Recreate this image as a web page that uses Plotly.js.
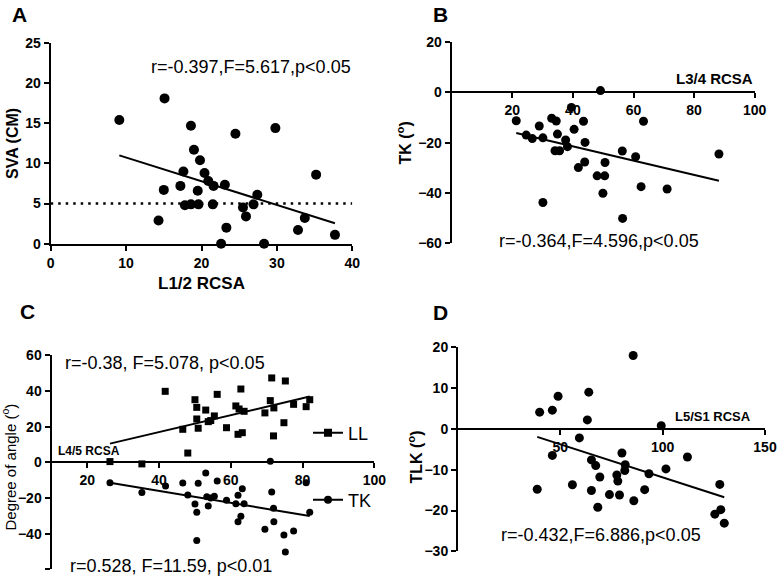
<!DOCTYPE html>
<html>
<head>
<meta charset="utf-8">
<script src="https://cdn.plot.ly/plotly-3.0.1.min.js"></script>
<style>html,body{margin:0;padding:0;background:#fff;}#chart{width:778px;height:576px;}</style>
</head>
<body>
<div id="chart"></div>
<script>
// ---------- Data ----------
// Panel A: L1/2 RCSA vs SVA (CM)
const aRCSA = [9.1, 15.1, 14.3, 15.0, 17.2, 17.6, 17.8, 18.6, 18.6, 19.0, 19.5, 19.6, 19.8, 20.4, 20.9, 21.6, 21.5, 22.6, 23.1, 23.3, 24.5, 25.5, 25.9, 26.9, 27.4, 28.3, 29.8, 32.8, 33.7, 35.2, 37.7];
const aSVA  = [15.4, 18.1, 2.9, 6.7, 7.2, 9.0, 4.8, 4.9, 14.7, 11.7, 6.6, 4.9, 10.4, 8.8, 7.8, 7.2, 4.9, 0.0, 7.35, 2.0, 13.7, 4.5, 3.4, 4.9, 6.1, 0.0, 14.4, 1.7, 3.2, 8.6, 1.1];
const aThreshold = 5;

// Panel B: L3/4 RCSA vs TK
const bRCSA = [21.3, 24.6, 26.6, 28.9, 30.1, 30.1, 33.0, 34.1, 34.5, 34.9, 35.6, 37.6, 38.2, 39.5, 40.4, 41.8, 43.5, 44.0, 43.9, 48.0, 49.1, 49.9, 50.5, 50.6, 56.3, 56.4, 60.7, 62.5, 63.3, 71.1, 88.2];
const bTK   = [-11.3, -17.0, -18.4, -13.4, -18.1, -43.8, -10.3, -23.2, -11.4, -16.6, -23.2, -18.9, -21.6, -6.0, -14.7, -29.9, -11.5, -19.9, -27.7, -33.2, 0.7, -40.1, -33.2, -27.9, -23.3, -50.1, -25.6, -37.5, -11.5, -38.4, -24.5];

// Panel C: L4/5 RCSA vs LL and TK
const cLLRCSA = [26.3, 35.2, 41.7, 46.6, 48.0, 50.0, 50.5, 50.5, 50.9, 53.0, 53.7, 54.4, 55.4, 56.2, 58.8, 61.4, 62.0, 62.3, 62.8, 63.2, 63.7, 69.5, 71.0, 71.4, 71.9, 72.0, 74.8, 75.2, 77.5, 81.0, 82.0];
const cLL     = [0.4, -0.9, 39.8, 18.5, 5.2, 35.1, 30.8, 24.3, 19.1, 29.3, 22.8, 23.4, 26.0, 38.1, 19.4, 31.6, 15.7, 29.9, 41.1, 16.6, 28.6, 27.7, 34.6, 47.3, 14.8, 30.5, 22.2, 45.6, 32.5, 31.2, 35.1];
const cTKRCSA = [26.3, 35.2, 41.8, 46.6, 48.0, 50.0, 50.5, 50.5, 50.9, 53.0, 53.3, 53.7, 54.4, 55.4, 56.2, 58.8, 61.4, 62.0, 62.0, 62.8, 63.2, 63.7, 69.5, 71.0, 71.4, 71.9, 72.0, 74.8, 75.2, 77.5, 81.0, 82.0];
const cTK     = [-11.4, -17.0, -13.3, -11.6, -18.3, -23.4, -28.0, -43.9, -11.8, -6.0, -19.3, -24.5, -20.0, -19.1, -10.5, -21.3, -23.2, -18.5, -33.3, -30.3, -14.8, -23.2, -37.6, 0.6, -16.6, -25.8, -33.3, -40.7, -50.3, -38.5, -11.4, -28.0];

// Panel D: L5/S1 RCSA vs TLK
const dRCSA = [39.9, 46.1, 48.9, 63.9, 63.2, 59.3, 46.1, 38.7, 55.9, 65.2, 67.3, 65.2, 69.3, 68.3, 74.0, 77.6, 78.1, 78.9, 80.1, 81.5, 81.7, 85.9, 85.6, 91.2, 93.3, 99.3, 101.6, 112.1, 125.5, 127.9, 128.4, 130.1];
const dTLK  = [4.1, 4.6, 8.0, 9.0, 2.2, -2.2, -6.5, -14.8, -13.7, -7.6, -9.0, -15.1, -11.8, -19.2, -16.1, -11.3, -12.8, -16.2, -5.9, -10.2, -8.8, -17.6, 18.0, -14.9, -11.0, 0.8, -9.8, -6.9, -20.9, -13.6, -19.8, -23.1];

// Tick labels / texts
const statsA = 'r=-0.397,F=5.617,p<0.05';
const statsB = 'r=-0.364,F=4.596,p<0.05';
const statsCLL = 'r=-0.38, F=5.078, p<0.05';
const statsCTK = 'r=0.528, F=11.59, p<0.01';
const statsD = 'r=-0.432,F=6.886,p<0.05';

// ---------- helpers ----------
function linfit(xs, ys) {
  const n = xs.length;
  let sx = 0, sy = 0, sxx = 0, sxy = 0;
  for (let i = 0; i < n; i++) { sx += xs[i]; sy += ys[i]; sxx += xs[i]*xs[i]; sxy += xs[i]*ys[i]; }
  const m = (n*sxy - sx*sy) / (n*sxx - sx*sx);
  const b = (sy - m*sx) / n;
  const x0 = Math.min(...xs), x1 = Math.max(...xs);
  return {x: [x0, x1], y: [m*x0 + b, m*x1 + b]};
}

const W = 778, H = 576;
const px = v => v / W;
const py = v => 1 - v / H;
const FONT = '"Liberation Sans", Arial, sans-serif';
const K = '#000';

// domains (pixels -> paper)
const domA = {x: [px(50.7), px(352.3)], y: [py(243.7), py(43)]};
const domB = {x: [px(451.7), px(754.7)], y: [py(243.3), py(42)]};
const domC = {x: [px(51.5), px(374.3)], y: [py(569.3), py(355.3)]};
const domD = {x: [px(458), px(765)], y: [py(551.3), py(347.3)]};

const rngA = {x: [0, 40], y: [0, 25]};
const rngB = {x: [0, 100], y: [-60, 20]};
const rngC = {x: [10, 100], y: [-60, 60]};
const rngD = {x: [0, 150], y: [-30, 20]};

function zeroPos(dom, rng) {
  return dom.y[0] + (0 - rng.y[0]) / (rng.y[1] - rng.y[0]) * (dom.y[1] - dom.y[0]);
}

const tickFont = {family: FONT, size: 14, color: K, weight: 'bold'};
const axCommon = {
  showline: true, linecolor: K, linewidth: 2,
  ticks: 'outside', ticklen: 5, tickwidth: 2, tickcolor: K,
  showgrid: false, zeroline: false, tickfont: tickFont, fixedrange: true
};

const fitA = linfit(aRCSA, aSVA);
const fitB = linfit(bRCSA, bTK);
const fitCLL = linfit(cLLRCSA, cLL);
const fitCTK = linfit(cTKRCSA, cTK);
const fitD = linfit(dRCSA, dTLK);

const dot = (size, symbol) => ({color: K, size: size, symbol: symbol || 'circle'});
const lineStyle = {color: K, width: 2};

const traces = [
  {x: aRCSA, y: aSVA, xaxis: 'x', yaxis: 'y', mode: 'markers', marker: dot(10), cliponaxis: false, showlegend: false},
  {x: fitA.x, y: fitA.y, xaxis: 'x', yaxis: 'y', mode: 'lines', line: lineStyle, showlegend: false},

  {x: bRCSA, y: bTK, xaxis: 'x2', yaxis: 'y2', mode: 'markers', marker: dot(9), cliponaxis: false, showlegend: false},
  {x: fitB.x, y: fitB.y, xaxis: 'x2', yaxis: 'y2', mode: 'lines', line: lineStyle, showlegend: false},

  {x: cLLRCSA, y: cLL, xaxis: 'x3', yaxis: 'y3', mode: 'markers', marker: dot(7, 'square'), cliponaxis: false, showlegend: false},
  {x: fitCLL.x, y: fitCLL.y, xaxis: 'x3', yaxis: 'y3', mode: 'lines', line: lineStyle, showlegend: false},
  {x: cTKRCSA, y: cTK, xaxis: 'x3', yaxis: 'y3', mode: 'markers', marker: dot(7), cliponaxis: false, showlegend: false},
  {x: fitCTK.x, y: fitCTK.y, xaxis: 'x3', yaxis: 'y3', mode: 'lines', line: lineStyle, showlegend: false},
  // legend-only keys for panel C
  {x: [null], y: [null], xaxis: 'x3', yaxis: 'y3', mode: 'lines+markers', name: 'LL', marker: dot(8, 'square'), line: lineStyle, showlegend: true, legend: 'legend'},
  {x: [null], y: [null], xaxis: 'x3', yaxis: 'y3', mode: 'lines+markers', name: 'TK', marker: dot(8), line: lineStyle, showlegend: true, legend: 'legend2'},

  {x: dRCSA, y: dTLK, xaxis: 'x4', yaxis: 'y4', mode: 'markers', marker: dot(9), cliponaxis: false, showlegend: false},
  {x: fitD.x, y: fitD.y, xaxis: 'x4', yaxis: 'y4', mode: 'lines', line: lineStyle, showlegend: false}
];

const ann = (o) => Object.assign({showarrow: false, font: {family: FONT, size: 18, color: K}}, o);
const bold = (size) => ({family: FONT, size: size, color: K, weight: 'bold'});

const layout = {
  width: W, height: H,
  margin: {l: 0, r: 0, t: 0, b: 0},
  paper_bgcolor: '#fff', plot_bgcolor: 'rgba(0,0,0,0)',
  font: {family: FONT, color: K},
  xaxis: Object.assign({}, axCommon, {domain: domA.x, range: rngA.x, anchor: 'y', tickvals: [0, 10, 20, 30, 40]}),
  yaxis: Object.assign({}, axCommon, {domain: domA.y, range: rngA.y, anchor: 'x', tickvals: [0, 5, 10, 15, 20, 25]}),

  xaxis2: Object.assign({}, axCommon, {domain: domB.x, range: rngB.x, anchor: 'free', position: zeroPos(domB, rngB), tickvals: [20, 40, 60, 80, 100], layer: 'below traces'}),
  yaxis2: Object.assign({}, axCommon, {domain: domB.y, range: rngB.y, anchor: 'x2', tickvals: [-60, -40, -20, 0, 20]}),

  xaxis3: Object.assign({}, axCommon, {domain: domC.x, range: rngC.x, anchor: 'free', position: zeroPos(domC, rngC), tickvals: [20, 40, 60, 80, 100], layer: 'below traces'}),
  yaxis3: Object.assign({}, axCommon, {domain: domC.y, range: rngC.y, anchor: 'x3', tickvals: [-60, -40, -20, 0, 20, 40, 60]}),

  xaxis4: Object.assign({}, axCommon, {domain: domD.x, range: rngD.x, anchor: 'free', position: zeroPos(domD, rngD), tickvals: [50, 100, 150], layer: 'below traces'}),
  yaxis4: Object.assign({}, axCommon, {domain: domD.y, range: rngD.y, anchor: 'x4', tickvals: [-30, -20, -10, 0, 10, 20]}),

  legend: {x: px(308), y: py(433), xanchor: 'left', yanchor: 'middle', font: {family: FONT, size: 18, color: K}, bgcolor: 'rgba(0,0,0,0)', itemwidth: 30},
  legend2: {x: px(308), y: py(500), xanchor: 'left', yanchor: 'middle', font: {family: FONT, size: 18, color: K}, bgcolor: 'rgba(0,0,0,0)', itemwidth: 30},

  shapes: [
    {type: 'line', xref: 'x', yref: 'y', x0: rngA.x[0], x1: rngA.x[1], y0: aThreshold, y1: aThreshold, line: {color: K, width: 2.5, dash: '2.5px,5px'}}
  ],

  annotations: [
    // panel letters
    ann({text: 'A', xref: 'paper', yref: 'paper', x: px(19), y: py(14), xanchor: 'center', yanchor: 'middle', font: bold(21)}),
    ann({text: 'B', xref: 'paper', yref: 'paper', x: px(440), y: py(14), xanchor: 'center', yanchor: 'middle', font: bold(21)}),
    ann({text: 'C', xref: 'paper', yref: 'paper', x: px(27), y: py(311), xanchor: 'center', yanchor: 'middle', font: bold(21)}),
    ann({text: 'D', xref: 'paper', yref: 'paper', x: px(440), y: py(312), xanchor: 'center', yanchor: 'middle', font: bold(21)}),

    // axis titles
    ann({text: 'L1/2 RCSA', xref: 'paper', yref: 'paper', x: px(201), y: py(283), xanchor: 'center', yanchor: 'middle', font: bold(17)}),
    ann({text: 'SVA (CM)', xref: 'paper', yref: 'paper', x: px(12.5), y: py(143.5), xanchor: 'center', yanchor: 'middle', textangle: -90, font: bold(16)}),
    ann({text: 'TK (<sup>o</sup>)', xref: 'paper', yref: 'paper', x: px(404.5), y: py(143), xanchor: 'center', yanchor: 'middle', textangle: -90, font: bold(16)}),
    ann({text: 'L3/4 RCSA', xref: 'x2', yref: 'y2', x: 100, y: 0, xanchor: 'right', yanchor: 'bottom', yshift: 3, font: bold(15)}),
    ann({text: 'Degree of angle (<sup>o</sup>)', xref: 'paper', yref: 'paper', x: px(8.5), y: py(467), xanchor: 'center', yanchor: 'middle', textangle: -90, font: {family: FONT, size: 15, color: K}}),
    ann({text: 'L4/5 RCSA', xref: 'x3', yref: 'y3', x: 11.3, y: 0, xanchor: 'left', yanchor: 'bottom', yshift: 2, font: bold(12)}),
    ann({text: 'TLK (<sup>o</sup>)', xref: 'paper', yref: 'paper', x: px(415.5), y: py(457), xanchor: 'center', yanchor: 'middle', textangle: -90, font: bold(16)}),
    ann({text: 'L5/S1 RCSA', xref: 'x4', yref: 'y4', x: 144, y: 0, xanchor: 'right', yanchor: 'bottom', yshift: 3, font: bold(13)}),

    // statistics
    ann({text: statsA, xref: 'paper', yref: 'paper', x: px(250.5), y: py(67), xanchor: 'center', yanchor: 'middle'}),
    ann({text: statsB, xref: 'paper', yref: 'paper', x: px(599), y: py(241), xanchor: 'center', yanchor: 'middle'}),
    ann({text: statsCLL, xref: 'paper', yref: 'paper', x: px(63), y: py(363), xanchor: 'left', yanchor: 'middle'}),
    ann({text: statsCTK, xref: 'paper', yref: 'paper', x: px(68), y: py(566), xanchor: 'left', yanchor: 'middle'}),
    ann({text: statsD, xref: 'paper', yref: 'paper', x: px(600.5), y: py(535), xanchor: 'center', yanchor: 'middle'})
  ]
};

Plotly.newPlot('chart', traces, layout, {displayModeBar: false, staticPlot: true});
</script>
</body>
</html>
